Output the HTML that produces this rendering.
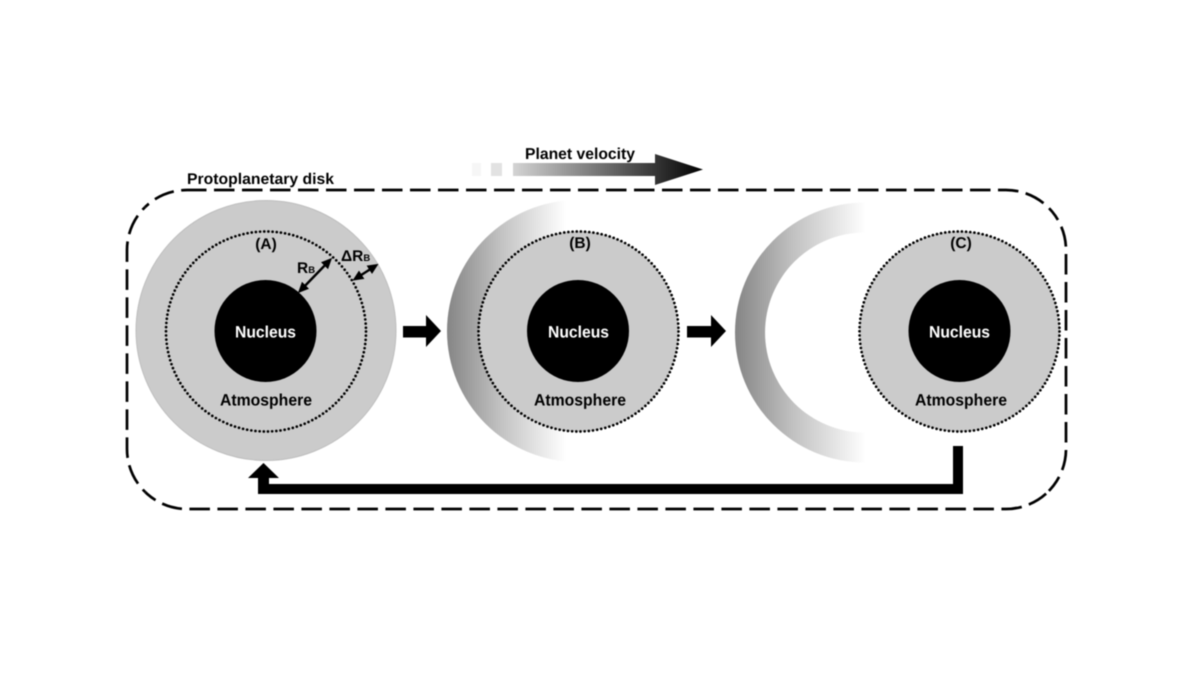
<!DOCTYPE html>
<html><head><meta charset="utf-8"><style>html,body{margin:0;padding:0;background:#fff;width:1200px;height:678px;overflow:hidden}svg{display:block;filter:blur(0.45px)}text{font-family:"Liberation Sans",sans-serif;font-weight:bold;font-size:16px;text-anchor:middle;fill:#000;text-rendering:geometricPrecision}</style></head><body>
<svg width="1200" height="678" viewBox="0 0 1200 678" xmlns="http://www.w3.org/2000/svg">
<defs>
<linearGradient id="g1" gradientUnits="userSpaceOnUse" x1="447" y1="0" x2="566" y2="0"><stop offset="0" stop-color="#858585"/><stop offset="0.45" stop-color="#c2c2c2"/><stop offset="1" stop-color="#fff"/></linearGradient>
<linearGradient id="g2" gradientUnits="userSpaceOnUse" x1="735" y1="0" x2="866" y2="0"><stop offset="0" stop-color="#858585"/><stop offset="0.45" stop-color="#c2c2c2"/><stop offset="1" stop-color="#fff"/></linearGradient>
<linearGradient id="g3" gradientUnits="userSpaceOnUse" x1="513" y1="0" x2="703" y2="0"><stop offset="0" stop-color="#d4d4d4"/><stop offset="1" stop-color="#000"/></linearGradient>
<clipPath id="c1"><rect x="440" y="190" width="126" height="290"/></clipPath>
<clipPath id="c2"><rect x="725" y="190" width="141" height="290"/></clipPath>
<clipPath id="bt"><path d="M100 160H1100L1024 232H169Z"/></clipPath>
<clipPath id="br"><path d="M1100 160V540L1024 467V232Z"/></clipPath>
<clipPath id="bb"><path d="M1100 540H100L169 467H1024Z"/></clipPath>
<clipPath id="bl"><path d="M100 540V160L169 232V467Z"/></clipPath>
<marker id="m" markerWidth="12" markerHeight="12" refX="8" refY="5" orient="auto-start-reverse" markerUnits="userSpaceOnUse"><path d="M0 0L11 5L0 10Z" fill="#000"/></marker>
</defs>
<g fill="none" stroke="#000" stroke-width="2.700">
<rect x="127" y="190" width="939" height="319" rx="60" ry="60" stroke-dasharray="20.500 7.500" stroke-dashoffset="1" clip-path="url(#bt)"/>
<rect x="127" y="190" width="939" height="319" rx="60" ry="60" stroke-dasharray="20.500 7.500" stroke-dashoffset="6.750" clip-path="url(#br)"/>
<rect x="127" y="190" width="939" height="319" rx="60" ry="60" stroke-dasharray="20.500 7.500" stroke-dashoffset="13.500" clip-path="url(#bb)"/>
<rect x="127" y="190" width="939" height="319" rx="60" ry="60" stroke-dasharray="20.500 7.500" stroke-dashoffset="17.300" clip-path="url(#bl)"/>
</g>

<circle cx="266" cy="330.500" r="130" fill="#cbcbcb" stroke="#bebebe" stroke-width="1"/>
<circle cx="266" cy="331.500" r="100" fill="none" stroke="#000" stroke-width="2.700" stroke-linecap="round" stroke-dasharray="0 4.190"/>
<circle cx="265.500" cy="331" r="51" fill="#000"/>

<circle cx="578" cy="331" r="131" fill="url(#g1)" clip-path="url(#c1)"/>
<circle cx="578.500" cy="331.500" r="100" fill="#cbcbcb" stroke="#000" stroke-width="2.700" stroke-linecap="round" stroke-dasharray="0 4.190"/>
<circle cx="578" cy="331" r="51" fill="#000"/>

<path d="M865 332.500m0 -130a130 130 0 0 0 0 260v-30a100 100 0 0 1 0 -200z" fill="url(#g2)" clip-path="url(#c2)"/>
<circle cx="959.500" cy="331.500" r="100" fill="#cbcbcb" stroke="#000" stroke-width="2.700" stroke-linecap="round" stroke-dasharray="0 4.190"/>
<circle cx="959.500" cy="331" r="51" fill="#000"/>

<rect x="472" y="163" width="9" height="13" fill="#f6f6f6"/>
<rect x="491" y="163" width="11" height="13" fill="#e2e2e2"/>
<path d="M513 163H655V154L703 169.500L655 185V176H513Z" fill="url(#g3)"/>

<path d="M403 326H426V315L441 331L426 347V337.500H403Z" fill="#000"/>
<path d="M687 326H711V315L726 331L711 347V337.500H687Z" fill="#000"/>
<path d="M953 446H963V494H258V478H248L263.500 463L279 478H269V484H953Z" fill="#000"/>

<line x1="300" y1="291" x2="330" y2="260" stroke="#000" stroke-width="2.400" marker-start="url(#m)" marker-end="url(#m)"/>
<line x1="355" y1="279" x2="376" y2="265.500" stroke="#000" stroke-width="2.400" marker-start="url(#m)" marker-end="url(#m)"/>

<text x="265.500" y="337.500" style="fill:#fff;font-size:16.500px" textLength="61" lengthAdjust="spacingAndGlyphs">Nucleus</text>
<text x="578.500" y="337.500" style="fill:#fff;font-size:16.500px" textLength="61" lengthAdjust="spacingAndGlyphs">Nucleus</text>
<text x="959.500" y="337.500" style="fill:#fff;font-size:16.500px" textLength="61" lengthAdjust="spacingAndGlyphs">Nucleus</text>
<text x="266" y="405.500" style="font-size:16.500px" textLength="92" lengthAdjust="spacingAndGlyphs">Atmosphere</text>
<text x="580" y="405.500" style="font-size:16.500px" textLength="92" lengthAdjust="spacingAndGlyphs">Atmosphere</text>
<text x="961" y="405.500" style="font-size:16.500px" textLength="92" lengthAdjust="spacingAndGlyphs">Atmosphere</text>
<text x="266" y="249" style="font-size:15.500px">(A)</text>
<text x="580" y="248" style="font-size:15.500px">(B)</text>
<text x="961" y="248" style="font-size:15.500px">(C)</text>
<text x="580" y="159" style="font-size:15.800px" textLength="110" lengthAdjust="spacingAndGlyphs">Planet velocity</text>
<text x="260.500" y="184" style="font-size:15.500px" textLength="147" lengthAdjust="spacingAndGlyphs">Protoplanetary disk</text>
<text x="297" y="273" style="text-anchor:start;font-size:15.500px">R<tspan style="font-size:9.500px">B</tspan></text>
<text x="341" y="261" style="text-anchor:start;font-size:15.500px">ΔR<tspan style="font-size:9.500px">B</tspan></text>
</svg>
</body></html>
